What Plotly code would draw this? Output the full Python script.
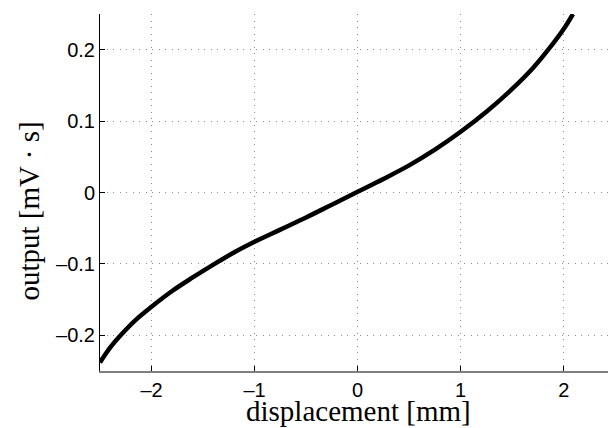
import plotly.graph_objects as go

# Curve samples
disp_mm = [-2.50, -2.40, -2.30, -2.15, -2.00, -1.80, -1.60, -1.40, -1.20, -1.00,
           -0.75, -0.50, -0.25, 0.00, 0.25, 0.50, 0.75, 1.00, 1.25, 1.50,
           1.70, 1.85, 2.00, 2.09]
output_mVs = [-0.238, -0.217, -0.200, -0.178, -0.160, -0.138, -0.119, -0.101, -0.084, -0.069,
              -0.052, -0.035, -0.017, 0.001, 0.019, 0.038, 0.060, 0.085, 0.113, 0.145,
              0.174, 0.200, 0.229, 0.250]

x_ticks = [-2, -1, 0, 1, 2]
x_tick_labels = ["\u20132", "\u20131", "0", "1", "2"]
y_ticks = [-0.2, -0.1, 0, 0.1, 0.2]
y_tick_labels = ["\u20130.2", "\u20130.1", "0", "0.1", "0.2"]

x_title = "displacement [mm]"
y_title = "output [mV \u00b7 s]"

fig = go.Figure()
fig.add_trace(go.Scatter(
    x=disp_mm, y=output_mVs, mode="lines",
    line=dict(color="black", width=4.5, shape="spline", smoothing=1),
    hoverinfo="skip", showlegend=False,
))

tick_font = dict(family="Liberation Sans, Arial, sans-serif", size=20, color="black")
title_font = dict(family="Liberation Serif, Times New Roman, serif", size=29, color="black")

fig.update_layout(
    width=608, height=428,
    margin=dict(l=100, r=0, t=14, b=57),
    paper_bgcolor="white", plot_bgcolor="white",
    showlegend=False,
)
grid_kw = dict(showgrid=True, gridcolor="#8c8c8c", gridwidth=1, griddash="1px,5.5px",
               zeroline=False, mirror=False, ticks="inside", ticklen=5,
               tickcolor="black", tickfont=tick_font)
fig.update_xaxes(
    range=[-2.5, 2.43], tickvals=x_ticks, ticktext=x_tick_labels,
    showline=True, linecolor="#7f7f7f", linewidth=2, **grid_kw,
)
fig.update_yaxes(
    range=[-0.25, 0.25], tickvals=y_ticks, ticktext=y_tick_labels,
    showline=True, linecolor="black", linewidth=1, **grid_kw,
)

fig.add_annotation(
    text=x_title, font=title_font, showarrow=False, borderpad=0,
    xref="x", x=0.01, yref="paper", y=0, yanchor="middle", yshift=-40,
)
fig.add_annotation(
    text=y_title, font=title_font, showarrow=False, textangle=-90, borderpad=0,
    xref="paper", x=0, xanchor="center", xshift=-72,
    yref="paper", y=0.5, yanchor="middle", yshift=-19,
)

fig.write_html("out.html", config={"displayModeBar": False},
               post_script="document.body.style.margin='0px';")
